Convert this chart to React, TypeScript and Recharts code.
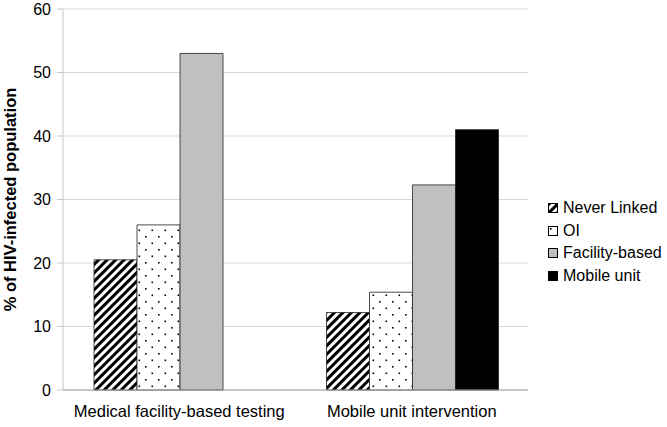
import React from 'react';
import { BarChart, Bar, XAxis, YAxis, CartesianGrid, Legend } from 'recharts';

const categories = ['Medical facility-based testing', 'Mobile unit intervention'];
const neverLinked = [20.5, 12.2];
const oi = [26, 15.4];
const facilityBased = [53, 32.3];
const mobileUnit: (number | null)[] = [null, 41];
const yTicks = [0, 10, 20, 30, 40, 50, 60];

const data = categories.map((name, i) => ({
  name,
  'Never Linked': neverLinked[i],
  OI: oi[i],
  'Facility-based': facilityBased[i],
  'Mobile unit': mobileUnit[i],
}));

const series = [
  { key: 'Never Linked', fill: 'url(#stripes)' },
  { key: 'OI', fill: 'url(#dots)' },
  { key: 'Facility-based', fill: '#c0c0c0' },
  { key: 'Mobile unit', fill: '#000000' },
];

const font = '"Liberation Sans", Arial, sans-serif';

function LegendBox() {
  return (
    <div style={{ fontFamily: font, fontSize: 16, color: '#000', lineHeight: '22.5px' }}>
      {series.map((s) => (
        <div key={s.key} style={{ display: 'flex', alignItems: 'center' }}>
          <svg width={10} height={10} style={{ marginRight: 5 }}>
            <rect x={0.5} y={0.5} width={9} height={9} fill={s.fill} stroke="#000" strokeWidth={1} />
          </svg>
          <span>{s.key}</span>
        </div>
      ))}
    </div>
  );
}

export default function App() {
  return (
    <div style={{ position: 'absolute', left: 0, top: 0, background: '#fff' }}>
      <BarChart
        width={667}
        height={427}
        data={data}
        margin={{ top: 9, right: 20, bottom: 0, left: 0 }}
        barGap={0}
        barCategoryGap={31}
      >
        <defs>
          <pattern id="stripes" width="6" height="6" patternUnits="userSpaceOnUse" patternTransform="rotate(45)">
            <rect x="0" y="0" width="6" height="6" fill="#fff" />
            <rect x="0" y="0" width="3" height="6" fill="#000" />
          </pattern>
          <pattern id="dots" width="13" height="13" patternUnits="userSpaceOnUse">
            <rect x="0" y="0" width="13" height="13" fill="#fff" />
            <rect x="2" y="2" width="1.6" height="1.6" fill="#000" />
            <rect x="8.5" y="8.5" width="1.6" height="1.6" fill="#000" />
          </pattern>
        </defs>
        <CartesianGrid vertical={false} stroke="#d9d9d9" />
        <XAxis
          dataKey="name"
          height={37}
          tickLine={false}
          axisLine={{ stroke: '#a0a0a0' }}
          tick={{ fill: '#000', fontSize: 16.5, fontFamily: font }}
          tickMargin={9}
        />
        <YAxis
          width={63}
          domain={[0, 60]}
          ticks={yTicks}
          interval={0}
          tickSize={6}
          tickMargin={6}
          tickLine={{ stroke: '#c8c8c8' }}
          axisLine={{ stroke: '#c8c8c8' }}
          tick={{ fill: '#000', fontSize: 16, fontFamily: font }}
          label={{
            value: '% of HIV-infected population',
            angle: -90,
            position: 'insideLeft',
            offset: 10,
            style: { textAnchor: 'middle', fontWeight: 'bold', fontSize: 16.5, fontFamily: font, fill: '#000' },
          }}
        />
        <Legend
          layout="vertical"
          align="right"
          verticalAlign="middle"
          content={() => <LegendBox />}
          wrapperStyle={{ right: 0, top: 197, width: 119 }}
        />
        {series.map((s) => (
          <Bar key={s.key} dataKey={s.key} fill={s.fill} stroke="#222" strokeWidth={0.8} isAnimationActive={false} />
        ))}
      </BarChart>
    </div>
  );
}
